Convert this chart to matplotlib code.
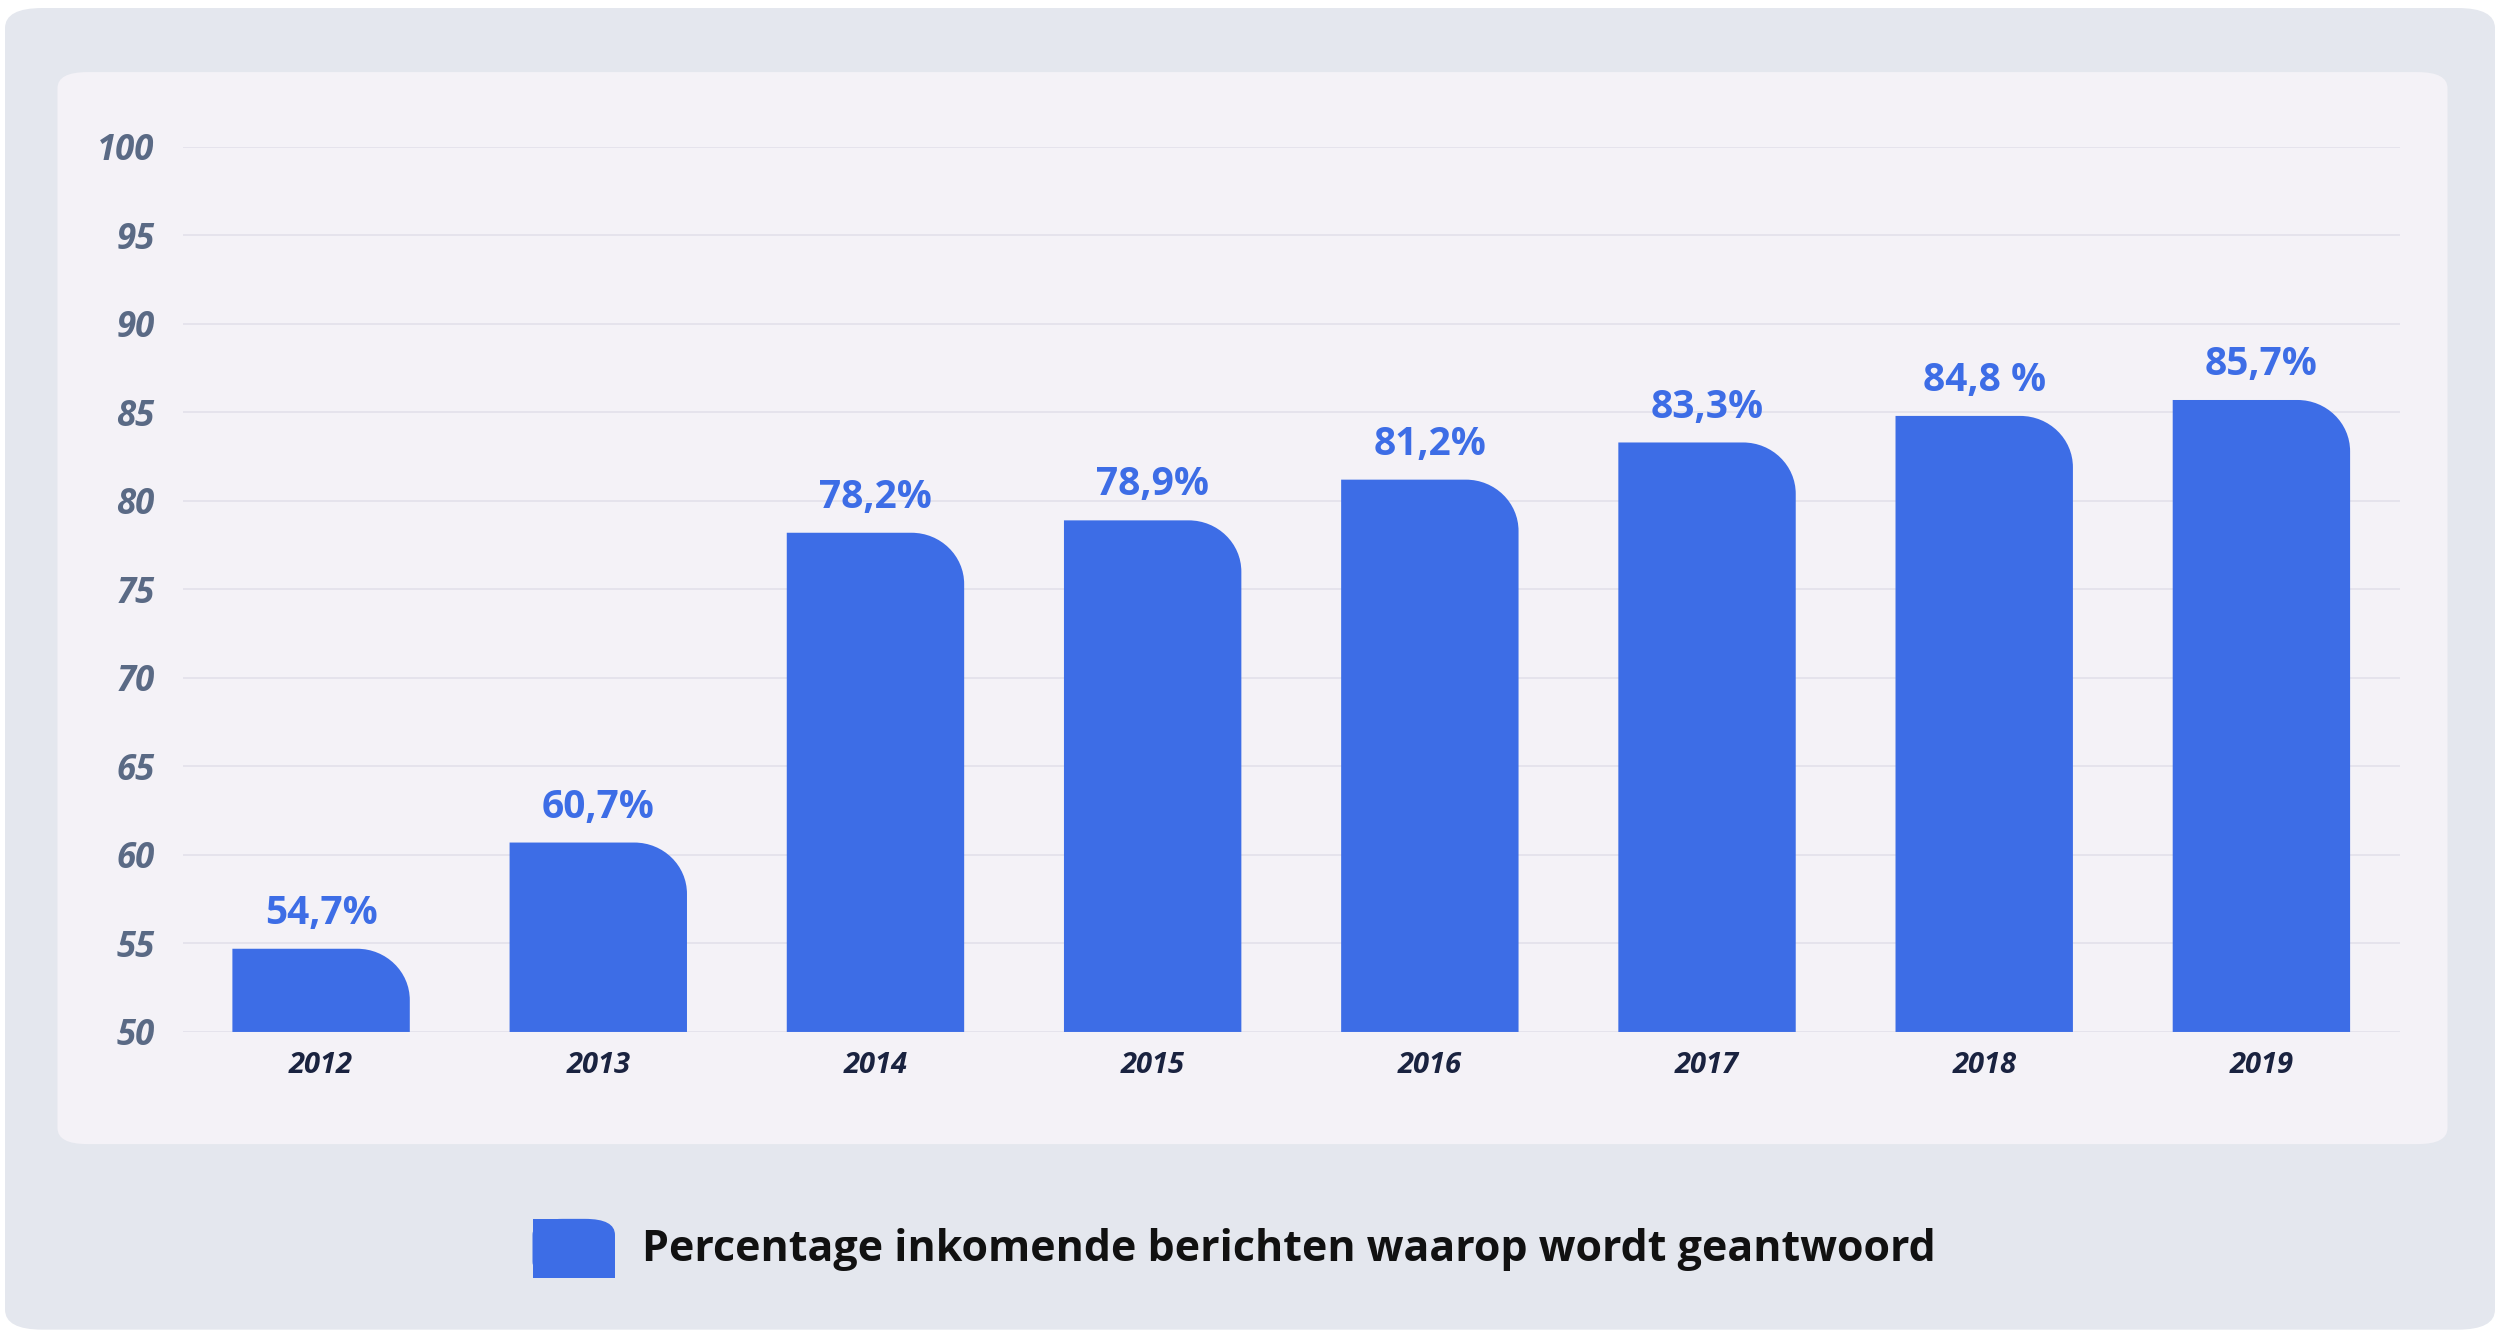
import matplotlib
matplotlib.use("Agg")
import matplotlib.pyplot as plt
from matplotlib.patches import FancyBboxPatch, PathPatch
from matplotlib.path import Path

years = ["2012", "2013", "2014", "2015", "2016", "2017", "2018", "2019"]
values = [54.7, 60.7, 78.2, 78.9, 81.2, 83.3, 84.8, 85.7]
labels = ["54,7%", "60,7%", "78,2%", "78,9%", "81,2%", "83,3%", "84,8 %", "85,7%"]
yticks = [50, 55, 60, 65, 70, 75, 80, 85, 90, 95, 100]
legend_text = "Percentage inkomende berichten waarop wordt geantwoord"

BLUE = "#3d6de6"
plt.rcParams["font.family"] = "Open Sans"

fig = plt.figure(figsize=(25, 13.35), dpi=100)
fig.patch.set_facecolor("white")
# outer and inner panels
fig.patches.append(FancyBboxPatch((0.002, 0.004), 0.996, 0.99, boxstyle="round,pad=0,rounding_size=0.015",
                                  transform=fig.transFigure, fc="#e4e7ee", ec="none", zorder=-5))
fig.patches.append(FancyBboxPatch((0.023, 0.143), 0.956, 0.803, boxstyle="round,pad=0,rounding_size=0.012",
                                  transform=fig.transFigure, fc="#f4f2f7", ec="none", zorder=-4))

ax = fig.add_axes([0.073, 0.227, 0.887, 0.663])
ax.set_zorder(5)
ax.set_facecolor("none")
ax.set_xlim(-0.5, len(years) - 0.5)
ax.set_ylim(50, 100)

def rounded_bar(x, h, w=0.64, base=50, rx=0.19, ry=2.9):
    l, r = x - w / 2, x + w / 2
    k = 0.5523
    verts = [(l, base), (l, h), (r - rx, h),
             (r - rx + k * rx, h), (r, h - ry + k * ry), (r, h - ry),
             (r, base), (l, base)]
    codes = [Path.MOVETO, Path.LINETO, Path.LINETO,
             Path.CURVE4, Path.CURVE4, Path.CURVE4,
             Path.LINETO, Path.CLOSEPOLY]
    return PathPatch(Path(verts, codes), fc=BLUE, ec="none", zorder=3)

for i, (v, lab) in enumerate(zip(values, labels)):
    ax.add_patch(rounded_bar(i, v))
    ax.text(i, v + 0.9, lab, ha="center", va="bottom", color=BLUE,
            fontsize=28, fontweight="bold", zorder=4)

ax.set_yticks(yticks)
ax.set_yticklabels([str(t) for t in yticks], fontsize=25, fontweight="bold",
                   fontstyle="italic", color="#5a6a85")
ax.set_xticks(range(len(years)))
ax.set_xticklabels(years, fontsize=21, fontweight="bold", fontstyle="italic", color="#1a2340")
ax.tick_params(length=0)
ax.tick_params(axis="x", pad=14)
ax.tick_params(axis="y", pad=20)
ax.grid(axis="y", color="#e2e0ea", lw=1.2, zorder=0)
for s in ax.spines.values():
    s.set_visible(False)

# legend swatch: rounded top-right corner only
fig.patches.append(FancyBboxPatch((0.213, 0.043), 0.033, 0.044, boxstyle="round,pad=0,rounding_size=0.012",
                                  transform=fig.transFigure, fc=BLUE, ec="none"))
fig.patches.append(FancyBboxPatch((0.213, 0.043), 0.02, 0.044, boxstyle="square,pad=0",
                                  transform=fig.transFigure, fc=BLUE, ec="none"))
fig.patches.append(FancyBboxPatch((0.213, 0.043), 0.033, 0.025, boxstyle="square,pad=0",
                                  transform=fig.transFigure, fc=BLUE, ec="none"))
fig.text(0.257, 0.064, legend_text, fontsize=31, fontweight="bold", color="#111111", va="center")

fig.savefig("out.png", dpi=100)
